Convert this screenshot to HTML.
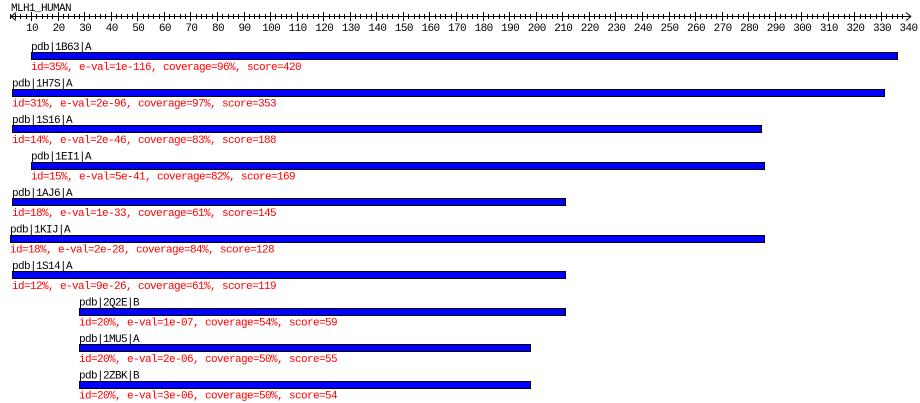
<!DOCTYPE html>
<html><head><meta charset="utf-8"><style>
html,body{margin:0;padding:0;background:#fff;}
svg{display:block;font-family:"Liberation Mono",monospace;font-size:11px;letter-spacing:-0.6px;}
</style></head><body>
<svg id="chart" width="920" height="403" xmlns="http://www.w3.org/2000/svg"></svg>
<script>
const names=["pdb|1B63|A","pdb|1H7S|A","pdb|1S16|A","pdb|1EI1|A","pdb|1AJ6|A","pdb|1KIJ|A","pdb|1S14|A","pdb|2Q2E|B","pdb|1MU5|A","pdb|2ZBK|B"];
const starts=[10,3,3,10,3,2,3,28,28,28];
const ends=[336,331,285,286,211,286,211,211,198,198];
const infos=["id=35%, e-val=1e-116, coverage=96%, score=420","id=31%, e-val=2e-96, coverage=97%, score=353","id=14%, e-val=2e-46, coverage=83%, score=188","id=15%, e-val=5e-41, coverage=82%, score=169","id=18%, e-val=1e-33, coverage=61%, score=145","id=18%, e-val=2e-28, coverage=84%, score=128","id=12%, e-val=9e-26, coverage=61%, score=119","id=20%, e-val=1e-07, coverage=54%, score=59","id=20%, e-val=2e-06, coverage=50%, score=55","id=20%, e-val=3e-06, coverage=50%, score=54"];
const tickLabels=[10,20,30,40,50,60,70,80,90,100,110,120,130,140,150,160,170,180,190,200,210,220,230,240,250,260,270,280,290,300,310,320,330,340];
const svg=document.getElementById('chart');
const NS="http://www.w3.org/2000/svg";
function x(v){return 4.5+v*2.656;}
function add(tag,attrs,text){const e=document.createElementNS(NS,tag);for(const k in attrs)e.setAttribute(k,attrs[k]);if(text!==undefined)e.textContent=text;svg.appendChild(e);return e;}
let t=add('text',{x:11,y:11,fill:'#000'},'MLH1_HUMAN');


let ax=add('path',{d:'M11 16.5H911M11 16.5l5-4M11 16.5l5 4M911 16.5l-5-4M911 16.5l-5 4',stroke:'#000','stroke-width':1,fill:'none'});


for(let v=2;v<=338;v+=2){
  const major=v%10===0;
  const px=Math.round(x(v))+0.5;
  const l=add('line',{x1:px,x2:px,y1:major?12:14,y2:major?21:19,stroke:'#000'});
  
  
}
tickLabels.forEach(v=>{
  const e=add('text',{x:x(v)+1,y:31,'text-anchor':'middle',fill:'#000'},String(v));
  
  
});
names.forEach((n,i)=>{
  const y0=52+i*36.5;
  const bx=Math.round(x(starts[i]));
  const bw=Math.round(x(ends[i]))-bx;
  const lab=add('text',{x:bx,y:y0-2,fill:'#000'},n);
  
  
  const r=add('rect',{x:bx+0.5,y:Math.round(y0)+0.5,width:bw,height:7,fill:'#0000ff',stroke:'#000'});
  
  
  const inf=add('text',{x:bx,y:y0+18,fill:'#ff0000'},infos[i]);
  
  
});
</script>
</body></html>
